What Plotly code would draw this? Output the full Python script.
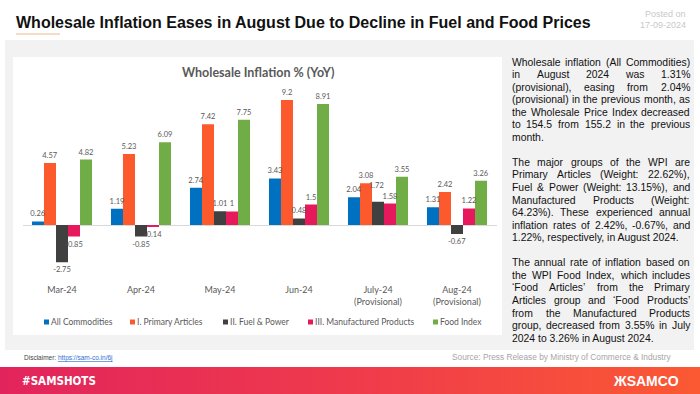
import base64
import plotly.graph_objects as go

# ---------------- data ----------------
categories = ["Mar-24", "Apr-24", "May-24", "Jun-24",
              "July-24<br>(Provisional)", "Aug-24<br>(Provisional)"]
all_commodities = [0.26, 1.19, 2.74, 3.43, 2.04, 1.31]
primary_articles = [4.57, 5.23, 7.42, 9.2, 3.08, 2.42]
fuel_power = [-2.75, -0.85, 1.01, 0.48, 1.72, -0.67]
manufactured = [-0.85, -0.14, 1, 1.5, 1.58, 1.22]
food_index = [4.82, 6.09, 7.75, 8.91, 3.55, 3.26]

series_names = ["All Commodities", "I. Primary Articles", "II. Fuel & Power",
                "III. Manufactured Products", "Food Index"]
series_values = [all_commodities, primary_articles, fuel_power, manufactured, food_index]
series_colors = ["#0070c0", "#fc5a2d", "#404040", "#e5195b", "#70ad47"]

paragraphs = [
    ["Wholesale inflation (All Commodities)",
     "in August 2024 was 1.31%",
     "(provisional), easing from 2.04%",
     "(provisional) in the previous month, as",
     "the Wholesale Price Index decreased",
     "to 154.5 from 155.2 in the previous",
     "month."],
    ["The major groups of the WPI are",
     "Primary Articles (Weight: 22.62%),",
     "Fuel & Power (Weight: 13.15%), and",
     "Manufactured Products (Weight:",
     "64.23%). These experienced annual",
     "inflation rates of 2.42%, -0.67%, and",
     "1.22%, respectively, in August 2024."],
    ["The annual rate of inflation based on",
     "the WPI Food Index, which includes",
     "\u2018Food Articles\u2019 from the Primary",
     "Articles group and \u2018Food Products\u2019",
     "from the Manufactured Products",
     "group, decreased from 3.55% in July",
     "2024 to 3.26% in August 2024."],
]

W, H = 700, 394


def px(x):
    return x / W


def py(y):
    return 1 - y / H


def note(text, x, y, xanchor="left", size=9, color="#111111", family="Liberation Sans"):
    return dict(text=text, x=px(x), y=py(y), xref="paper", yref="paper",
                xanchor=xanchor, yanchor="middle", showarrow=False,
                font=dict(family=family, size=size, color=color))


LABEL_FONT = dict(family="Lato", size=7.5, color="#595959")

# labels lifted off the bar to avoid collisions (series index, category index)
lifted = {(2, 4)}

fig = go.Figure()
# bars
for si, (name, vals, col) in enumerate(zip(series_names, series_values, series_colors)):
    fig.add_trace(go.Bar(
        name=name, x=categories, y=vals, offsetgroup=str(si),
        marker=dict(color=col, line=dict(width=0)),
        showlegend=False, hoverinfo="skip",
    ))
# value labels drawn on top of all bars (transparent twins sharing each bar's slot)
for si, (name, vals) in enumerate(zip(series_names, series_values)):
    texts = ["" if (si, ci) in lifted else f"{v:g}" for ci, v in enumerate(vals)]
    fig.add_trace(go.Bar(
        name=name + " labels", x=categories, y=vals, offsetgroup=str(si),
        marker=dict(color="rgba(0,0,0,0)", line=dict(width=0)),
        text=texts, textposition="outside", textfont=LABEL_FONT,
        constraintext="none", cliponaxis=False,
        showlegend=False, hoverinfo="skip",
    ))

shapes = [
    dict(type="rect", xref="paper", yref="paper", x0=px(5), x1=px(694), y0=py(350), y1=py(40),
         fillcolor="#f2f2f2", line=dict(width=0), layer="below"),
    dict(type="rect", xref="paper", yref="paper", x0=px(13), x1=px(502), y0=py(335), y1=py(57),
         fillcolor="#ffffff", line=dict(width=0), layer="below"),
    dict(type="line", xref="paper", yref="paper", x0=px(16), x1=px(60), y0=py(34), y1=py(34),
         line=dict(color="#f1d2b4", width=1.5)),
]

annotations = [
    note("<b>Wholesale Inflation Eases in August Due to Decline in Fuel and Food Prices</b>",
         14, 22, size=16, color="#111111"),
    note("Posted on", 688, 14, xanchor="right", size=9, color="#c9c9c9"),
    note("17-09-2024", 688, 25, xanchor="right", size=9, color="#c9c9c9"),
    note("<b>Wholesale Inflation % (YoY)</b>", 258, 72, xanchor="center", size=12.5,
         color="#595959", family="Lato"),
    note("Disclaimer: <span style='color:#2f6fd0'><u>https://sam-co.in/6j</u></span>",
         22, 358, size=6.5, color="#444444"),
    note("Source: Press Release by Ministry of Commerce & Industry", 673, 357,
         xanchor="right", size=8.3, color="#a6a6a6"),
    note("<b>#SAMSHOTS</b>", 20, 381, size=11.5, color="#ffffff",
         family="Liberation Sans Narrow, DejaVu Sans Condensed, Liberation Sans"),
    note("<b>\u0416SAMCO</b>", 681, 381, xanchor="right", size=14, color="#ffffff"),
]

for si, ci in lifted:
    annotations.append(dict(text=f"{series_values[si][ci]:g}", x=categories[ci],
                            y=series_values[si][ci], xref="x", yref="y", xshift=-2, yshift=10,
                            yanchor="bottom", showarrow=False, font=LABEL_FONT))

legend_x = [44, 130, 223, 308, 433]
for name, col, lx in zip(series_names, series_colors, legend_x):
    shapes.append(dict(type="rect", xref="paper", yref="paper", x0=px(lx), x1=px(lx + 5),
                       y0=py(324.5), y1=py(319.5), fillcolor=col, line=dict(width=0)))
    annotations.append(note(name, lx + 5, 322, size=8.5, color="#595959", family="Lato"))

AW = {' ': 278, '!': 278, '#': 556, '%': 889, '&': 667, "'": 191, '(': 333, ')': 333,
      ',': 278, '-': 333, '.': 278, '/': 278, ':': 278, ';': 278,
      '\u2018': 222, '\u2019': 222}
for d in "0123456789":
    AW[d] = 556
AW.update(dict(A=667, B=667, C=722, D=722, E=667, F=611, G=778, H=722, I=278, J=500, K=667,
               L=556, M=833, N=722, O=778, P=667, Q=778, R=722, S=667, T=611, U=722, V=667,
               W=944, X=667, Y=667, Z=611))
AW.update(dict(a=556, b=556, c=500, d=556, e=556, f=278, g=556, h=556, i=222, j=222, k=500,
               l=222, m=833, n=556, o=556, p=556, q=556, r=333, s=500, t=278, u=556, v=500,
               w=722, x=500, y=500, z=500))
FS = 10.4
TL, TR = 512, 690


def tw(s):
    return sum(AW.get(c, 556) for c in s) / 1000 * FS


yline = 62
for para in paragraphs:
    for li, line in enumerate(para):
        if li == len(para) - 1:
            annotations.append(note(line, TL - 2, yline, size=FS))
        else:
            words = line.split(" ")
            widths = [tw(wd) for wd in words]
            gap = (TR - TL - sum(widths)) / (len(words) - 1)
            cx = TL
            for wd, wdt in zip(words, widths):
                annotations.append(note(wd, cx - 2, yline, size=FS))
                cx += wdt + gap
        yline += 12.55
    yline += 12.55

svg = ('<svg xmlns="http://www.w3.org/2000/svg" width="700" height="27" preserveAspectRatio="none">'
       '<defs><linearGradient id="g" x1="0" y1="0" x2="1" y2="0">'
       '<stop offset="0" stop-color="#e2245c"/><stop offset="0.5" stop-color="#ef3a4c"/>'
       '<stop offset="1" stop-color="#fb5933"/></linearGradient></defs>'
       '<rect width="700" height="27" fill="url(#g)"/></svg>')
src = "data:image/svg+xml;base64," + base64.b64encode(svg.encode()).decode()

zero_px, top_px, top_val = 225, 100, 9.2
ppu = (zero_px - top_px) / top_val
dom_top, dom_bot = 85, 283

fig.update_layout(
    width=W, height=H, margin=dict(l=0, r=0, t=0, b=0),
    paper_bgcolor="#ffffff", plot_bgcolor="rgba(0,0,0,0)",
    barmode="group", bargap=0.24, bargroupgap=0,
    xaxis=dict(domain=[px(22.5), px(496.5)], showgrid=False, showline=False, ticks="",
               tickfont=dict(family="Lato", size=9, color="#595959"), fixedrange=True),
    yaxis=dict(domain=[py(dom_bot), py(dom_top)],
               range=[-(dom_bot - zero_px) / ppu, (zero_px - dom_top) / ppu],
               showgrid=False, showticklabels=False, ticks="", zeroline=True,
               zerolinecolor="#d9d9d9", zerolinewidth=1, fixedrange=True),
    shapes=shapes, annotations=annotations,
    images=[dict(source=src, xref="paper", yref="paper", x=0, y=py(367), sizex=1,
                 sizey=27 / H, sizing="stretch", xanchor="left", yanchor="top", layer="below")],
)

fig.write_html("out.html", config={"displayModeBar": False},
               post_script="document.body.style.margin='0';document.body.style.overflow='hidden';")
